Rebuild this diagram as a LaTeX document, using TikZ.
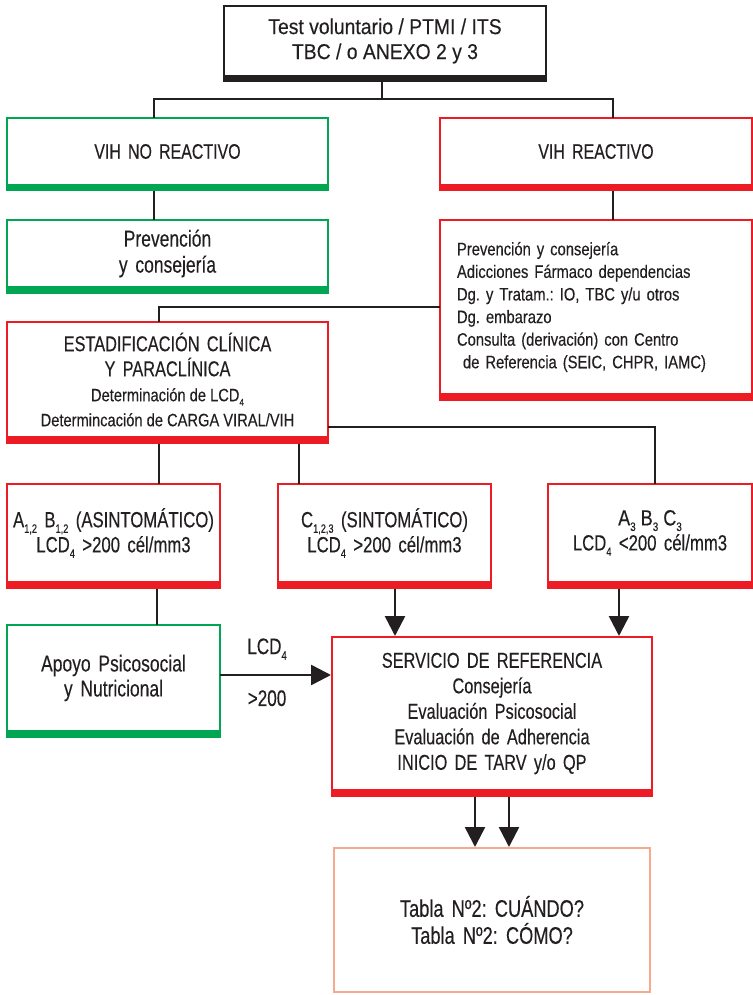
\documentclass[tikz,border=0pt]{standalone}
\usepackage{fontspec}
\setmainfont{Liberation Sans}[FakeStretch=0.76, WordSpace=1.6, FakeBold=0.3]
\newfontfamily\listfont{Liberation Sans}[FakeStretch=0.82, FakeBold=0.3]
\newfontfamily\headfont{Liberation Sans}[FakeStretch=0.9, FakeBold=0.3]
\usetikzlibrary{arrows.meta}
\frenchspacing

\definecolor{vgreen}{RGB}{0,166,81}
\definecolor{vred}{RGB}{237,28,36}
\definecolor{vsalmon}{RGB}{247,169,140}
\definecolor{vblack}{RGB}{35,31,32}

\newcommand\lowsub[1]{\raisebox{-.25em}{\scalebox{.55}{#1}}}

\tikzset{
  box/.style={draw, line width=2pt, inner sep=0pt, outer sep=0pt, align=center,
    text=vblack, font=\fontsize{22}{25}\selectfont},
  okbox/.style={box, draw=vgreen},
  redbox/.style={box, draw=vred},
  link/.style={draw=vblack, line width=2.5pt},
  arr/.style={link, -{Triangle[width=20pt,length=20pt]}, shorten >=1pt},
  tag/.style={inner sep=0pt, text=vblack, font=\fontsize{22.5}{25}\selectfont},
}

\begin{document}
\begin{tikzpicture}[x=1pt, y=-1pt]
  \useasboundingbox (0,0) rectangle (752,995);

  \node[box, draw=vblack, minimum width=322pt, minimum height=70pt,
    font=\headfont\fontsize{21.5}{25}\selectfont] (top) at (385,41)
    {Test voluntario / PTMI / ITS\\TBC / o ANEXO 2 y 3};

  \node[okbox, minimum width=321pt, minimum height=67pt,
    font=\fontsize{21}{25}\selectfont] (vihno) at (167.5,151.5) {VIH NO REACTIVO};
  \node[redbox, minimum width=312pt, minimum height=67pt,
    font=\fontsize{21}{25}\selectfont] (vihsi) at (596,151.5) {VIH REACTIVO};

  \node[okbox, minimum width=321pt, minimum height=67pt,
    font=\fontsize{23}{26}\selectfont] (prevno) at (167.5,253.5) {Prevención\\y consejería};
  \node[redbox, minimum width=312pt, minimum height=174pt, align=left, text width=278pt,
    font=\listfont\fontsize{18}{22.6}\selectfont] (prevsi) at (596,307)
    {Prevención y consejería\\
     Adicciones Fármaco dependencias\\
     Dg. y Tratam.: IO, TBC y/u otros\\
     Dg. embarazo\\
     Consulta (derivación) con Centro\\
     \ de Referencia (SEIC, CHPR, IAMC)};

  \node[redbox, minimum width=321pt, minimum height=115pt] (estad) at (167.5,379.5)
    {\fontsize{21.5}{25}\selectfont ESTADIFICACIÓN CLÍNICA\\
     \fontsize{21.5}{25}\selectfont Y PARACLÍNICA\\
     \listfont\fontsize{17.9}{25}\selectfont Determinación de LCD\lowsub{4}\\
     \listfont\fontsize{17.9}{21}\selectfont Determincación de CARGA VIRAL/VIH};

  \node[redbox, minimum width=213pt, minimum height=98pt] (grpA) at (113.5,533)
    {A\lowsub{1,2} B\lowsub{1,2} (ASINTOMÁTICO)\\LCD\lowsub{4} >200 cél/mm3};
  \node[redbox, minimum width=213pt, minimum height=98pt] (grpC) at (384.5,533)
    {C\lowsub{1,2,3} (SINTOMÁTICO)\\LCD\lowsub{4} >200 cél/mm3};
  \node[redbox, minimum width=204pt, minimum height=98pt] (grpA3) at (650,533)
    {{\listfont A\lowsub{3} B\lowsub{3} C\lowsub{3}}\\LCD\lowsub{4} <200 cél/mm3};

  \node[okbox, minimum width=213pt, minimum height=106pt,
    font=\fontsize{23}{25}\selectfont] (apoyo) at (113.5,678)
    {Apoyo Psicosocial\\y Nutricional};

  \node[redbox, minimum width=320pt, minimum height=153pt,
    font=\fontsize{21.5}{25.5}\selectfont] (servicio) at (492,713.5)
    {SERVICIO DE REFERENCIA\\Consejería\\Evaluación Psicosocial\\Evaluación de Adherencia\\INICIO DE TARV y/o QP};

  \node[box, draw=vsalmon, minimum width=316pt, minimum height=144pt,
    font=\fontsize{24}{27}\selectfont] (tabla) at (492,920)
    {Tabla Nº2: CUÁNDO?\\Tabla Nº2: CÓMO?};

  % connectors
  \coordinate (split) at (382,99);
  \draw[link] (top.south -| split) -- (split) -| (vihno.north -| 154,0);
  \draw[link] (split) -| (vihsi.north -| 613,0);
  \draw[link] (vihno.south -| 154,0) -- (prevno.north -| 154,0);
  \draw[link] (vihsi.south -| 613,0) -- (prevsi.north -| 613,0);
  \draw[link] (prevsi.west |- 0,307) -| (estad.north -| 159,0);
  \draw[link] (estad.south -| 159,0) -- (grpA.north -| 159,0);
  \draw[link] (estad.south -| 299,0) -- (grpC.north -| 299,0);
  \draw[link] (estad.east |- 0,427) -| (grpA3.north -| 655,0);
  \draw[link] (grpA.south -| 157,0) -- (apoyo.north -| 157,0);
  \draw[arr] (grpC.south -| 395,0) -- (servicio.north -| 395,0);
  \draw[arr] (grpA3.south -| 619,0) -- (servicio.north -| 619,0);
  \draw[arr] (apoyo.east |- 0,675) -- (servicio.west |- 0,675)
    node[tag, pos=.42, above=14pt] (lcdtag) {LCD\lowsub{4}}
    node[tag, pos=.42, below=14pt] (gttag) {>200};
  \draw[arr] (servicio.south -| 475,0) -- (tabla.north -| 475,0);
  \draw[arr] (servicio.south -| 509,0) -- (tabla.north -| 509,0);

  % thick bottom bars
  \foreach \n/\c in {top/vblack, vihno/vgreen, vihsi/vred, prevno/vgreen, prevsi/vred,
      estad/vred, grpA/vred, grpC/vred, grpA3/vred, apoyo/vgreen, servicio/vred}
    \fill[\c] ([xshift=-1pt,yshift=1pt]\n.south west) rectangle ([xshift=1pt,yshift=-6.5pt]\n.south east);
\end{tikzpicture}
\end{document}
